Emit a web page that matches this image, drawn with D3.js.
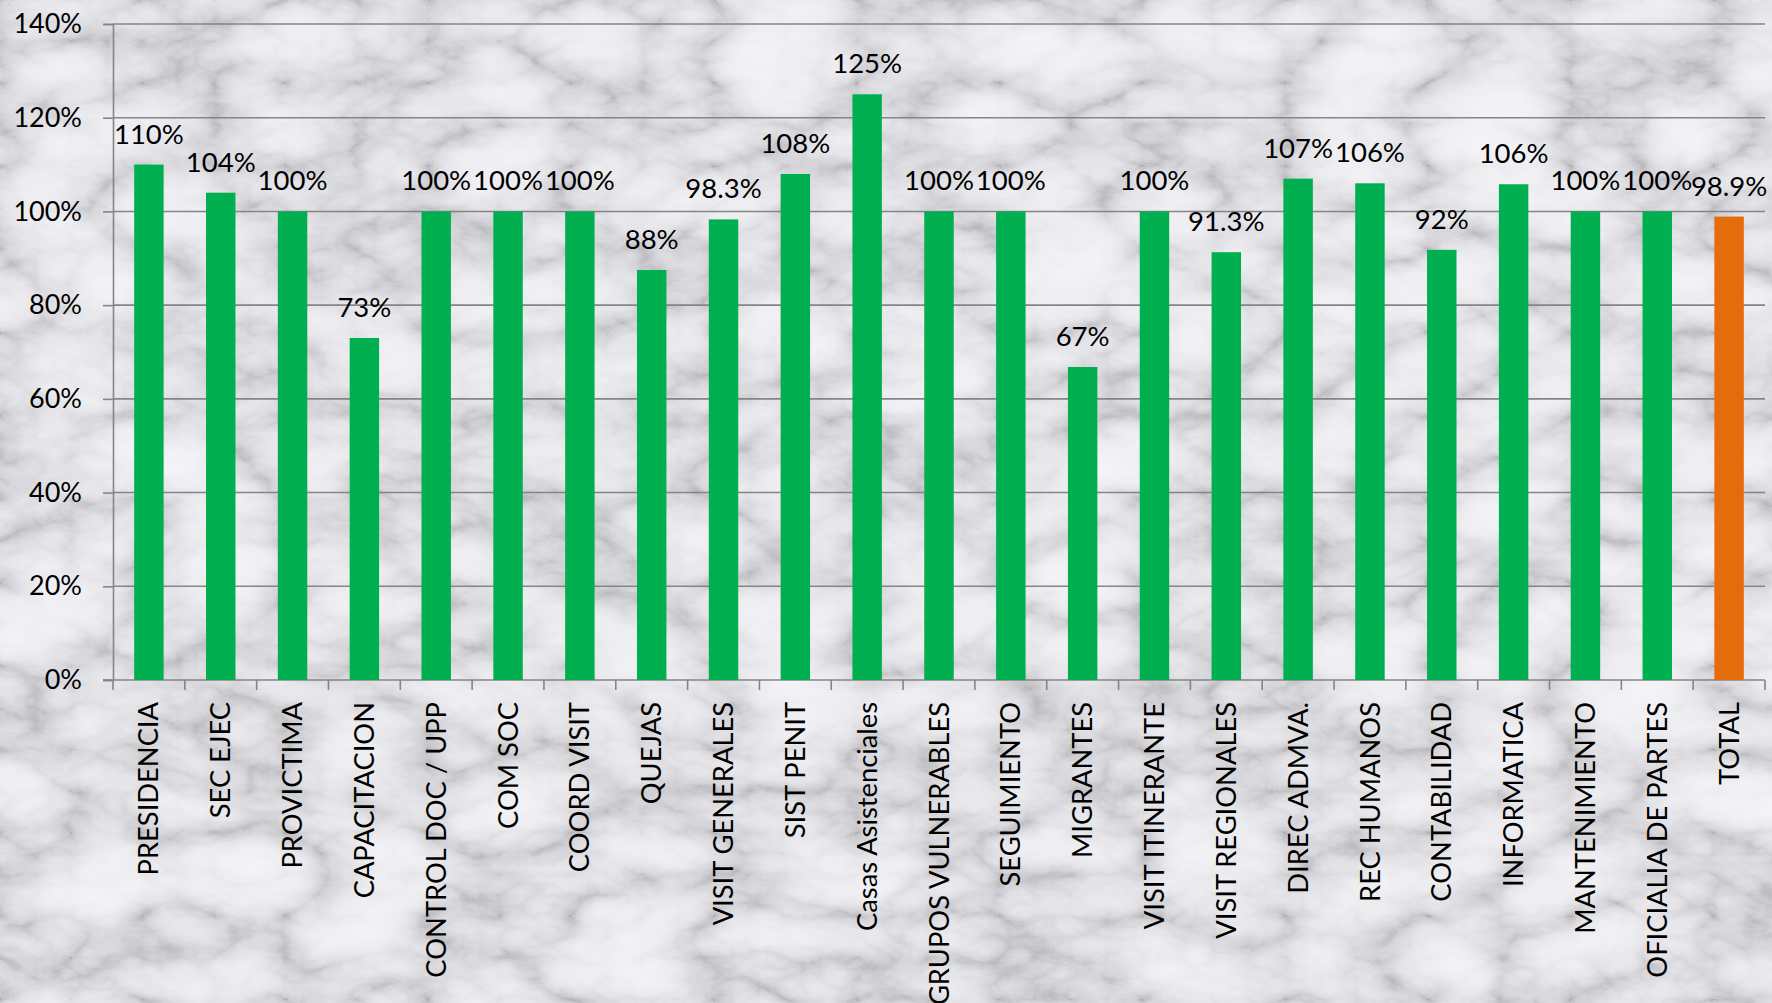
<!DOCTYPE html>
<html>
<head>
<meta charset="utf-8">
<script src="https://cdn.jsdelivr.net/npm/d3@7"></script>
<style>
  html, body { margin: 0; padding: 0; overflow: hidden; background: #dcdcde; }
  svg { display: block; }
  text { font-family: Lato, "Open Sans", sans-serif; fill: #000; }
</style>
</head>
<body>
<svg id="chart" width="1772" height="1003"></svg>
<script>
const categories = ["PRESIDENCIA", "SEC EJEC", "PROVICTIMA", "CAPACITACION", "CONTROL DOC / UPP",
  "COM SOC", "COORD VISIT", "QUEJAS", "VISIT GENERALES", "SIST PENIT", "Casas Asistenciales",
  "GRUPOS VULNERABLES", "SEGUIMIENTO", "MIGRANTES", "VISIT ITINERANTE", "VISIT REGIONALES",
  "DIREC ADMVA.", "REC HUMANOS", "CONTABILIDAD", "INFORMATICA", "MANTENIMIENTO",
  "OFICIALIA DE PARTES", "TOTAL"];
const values = [1.10, 1.04, 1.00, 0.73, 1.00, 1.00, 1.00, 0.875, 0.983, 1.08, 1.25,
  1.00, 1.00, 0.668, 1.00, 0.913, 1.07, 1.06, 0.918, 1.058, 1.00, 1.00, 0.989];
const valueLabels = ["110%", "104%", "100%", "73%", "100%", "100%", "100%", "88%", "98.3%",
  "108%", "125%", "100%", "100%", "67%", "100%", "91.3%", "107%", "106%", "92%", "106%",
  "100%", "100%", "98.9%"];
const yTicks = [0, 0.2, 0.4, 0.6, 0.8, 1.0, 1.2, 1.4];

const svg = d3.select("#chart");
const W = 1772, H = 1003;
const m = { left: 113, right: 7, top: 24, bottom: 323 };

// marble-like background
const defs = svg.append("defs");
const f = defs.append("filter").attr("id", "marble")
  .attr("x", 0).attr("y", 0).attr("width", W).attr("height", H)
  .attr("filterUnits", "userSpaceOnUse");
f.append("feTurbulence").attr("type", "turbulence")
  .attr("baseFrequency", "0.007 0.012").attr("numOctaves", 6).attr("seed", 7).attr("result", "t");
f.append("feColorMatrix").attr("type", "matrix")
  .attr("values", "1 0 0 0 0  1 0 0 0 0  1 0 0 0 0  0 0 0 0 1").attr("result", "g");
const ct = f.append("feComponentTransfer");
ct.append("feFuncR").attr("type", "table").attr("tableValues", "0.45 0.66 0.78 0.85 0.89 0.91 0.93");
ct.append("feFuncG").attr("type", "table").attr("tableValues", "0.45 0.66 0.78 0.85 0.89 0.91 0.93");
ct.append("feFuncB").attr("type", "table").attr("tableValues", "0.48 0.69 0.81 0.88 0.92 0.94 0.96");
svg.append("rect").attr("x", 0).attr("y", 0).attr("width", W).attr("height", H)
  .attr("fill", "#dcdcde").attr("filter", "url(#marble)");

const x = d3.scaleBand().domain(categories).range([m.left, W - m.right]).padding(0);
const y = d3.scaleLinear().domain([0, 1.4]).range([H - m.bottom, m.top]);

const gridColor = "#858585";

// gridlines
svg.append("g").selectAll("line").data(yTicks.filter(d => d > 0)).join("line")
  .attr("x1", m.left).attr("x2", W - m.right)
  .attr("y1", d => y(d)).attr("y2", d => y(d))
  .attr("stroke", gridColor).attr("stroke-width", 1.6);

// y axis
const yAxis = svg.append("g").attr("transform", `translate(${m.left},0)`)
  .call(d3.axisLeft(y).tickValues(yTicks).tickFormat(d3.format(".0%")).tickSize(10).tickPadding(21));
yAxis.select(".domain").attr("stroke", gridColor).attr("stroke-width", 1.6);
yAxis.selectAll(".tick line").attr("stroke", gridColor).attr("stroke-width", 1.6);
yAxis.selectAll(".tick text").attr("font-size", 27).attr("font-family", "Lato, sans-serif").attr("fill", "#000");

// x axis line and band ticks
const base = y(0);
svg.append("line").attr("x1", m.left - 10).attr("x2", W - m.right)
  .attr("y1", base).attr("y2", base).attr("stroke", gridColor).attr("stroke-width", 1.6);
const bounds = categories.map(c => x(c)).concat([x.range()[1]]);
svg.append("g").selectAll("line").data(bounds).join("line")
  .attr("x1", d => d).attr("x2", d => d).attr("y1", base).attr("y2", base + 10)
  .attr("stroke", gridColor).attr("stroke-width", 1.6);

// bars
const bw = x.bandwidth() * 0.41;
svg.append("g").selectAll("rect").data(categories).join("rect")
  .attr("x", (c) => x(c) + (x.bandwidth() - bw) / 2)
  .attr("width", bw)
  .attr("y", (c, i) => y(values[i]))
  .attr("height", (c, i) => base - y(values[i]))
  .attr("fill", c => c === "TOTAL" ? "#E46C0A" : "#00B050");

// value labels
svg.append("g").selectAll("text").data(categories).join("text")
  .attr("x", c => x(c) + x.bandwidth() / 2)
  .attr("y", (c, i) => y(values[i]) - 21)
  .attr("text-anchor", "middle")
  .attr("font-size", 27.5)
  .text((c, i) => valueLabels[i]);

// category labels
svg.append("g").selectAll("text").data(categories).join("text")
  .attr("transform", c => `translate(${x(c) + x.bandwidth() / 2},${base + 22}) rotate(-90)`)
  .attr("text-anchor", "end")
  .attr("dy", "0.35em")
  .attr("font-size", 27.3)
  .text(c => c);
</script>
</body>
</html>
